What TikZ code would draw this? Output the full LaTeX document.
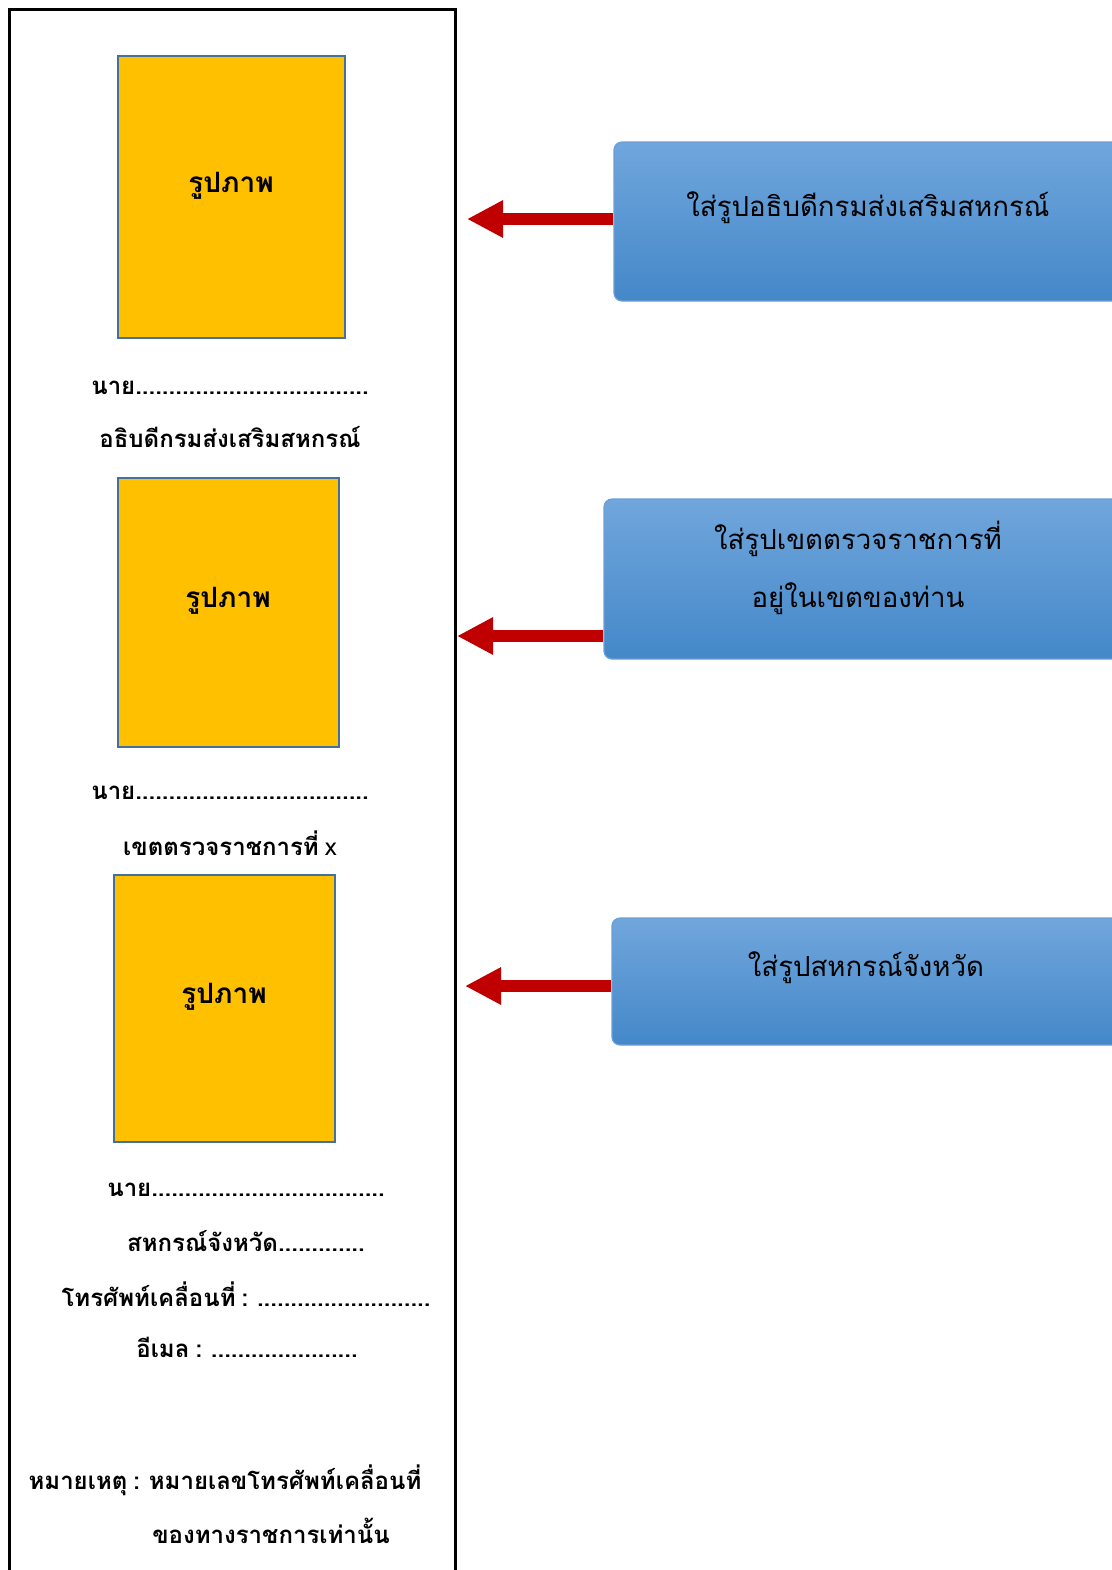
\documentclass[tikz,border=0pt]{standalone}
\usepackage{fontspec}
\setmainfont[Script=Thai, WordSpace=0.75]{Loma}
\usetikzlibrary{arrows.meta}
\definecolor{gold}{HTML}{FFC000}
\definecolor{goldedge}{HTML}{41719C}
\definecolor{bluetop}{HTML}{70A6DC}
\definecolor{bluebot}{HTML}{4488C9}
\definecolor{blueedge}{HTML}{6C9FD6}
\definecolor{arrowred}{HTML}{C00000}
\begin{document}
\begin{tikzpicture}[x={(0.5pt,0pt)}, y={(0pt,-0.5pt)},
 photo/.style={draw=goldedge, line width=1.2pt, fill=gold, inner sep=0pt},
 infobox/.style={draw=blueedge, line width=0.6pt, rounded corners=4pt, top color=bluetop, bottom color=bluebot, inner sep=0pt},
 lbl/.style={font=\bfseries\fontsize{12}{15}\selectfont, inner sep=0pt},
 phototxt/.style={font=\bfseries\fontsize{14}{17}\selectfont, inner sep=0pt},
 boxtxt/.style={font=\fontsize{13.8}{17}\selectfont, inner sep=0pt},
 pointer/.style={arrowred, line width=6pt, -{Triangle[length=18pt,width=17.5pt]}}
]
\useasboundingbox (0,0) rectangle (1112,1570);
\draw[line width=1.5pt] (9,1590) -- (9,9) -- (455,9) -- (455,1590);

% photo placeholders
\node[photo, minimum width=113.5pt, minimum height=141pt] (p1) at (231.5,197) {};
\node[photo, minimum width=110.5pt, minimum height=134.5pt] (p2) at (228.5,612.5) {};
\node[photo, minimum width=110.5pt, minimum height=133.5pt] (p3) at (224.5,1008.5) {};
\node[phototxt] (p1t) at (231,186) {รูปภาพ};
\node[phototxt] (p2t) at (228,601) {รูปภาพ};
\node[phototxt] (p3t) at (224,997) {รูปภาพ};

% captions
\node[lbl] (n1) at (230,388) {นาย...................................};
\node[lbl] (r1) at (230,437) {อธิบดีกรมส่งเสริมสหกรณ์};
\node[lbl] (n2) at (230,793) {นาย...................................};
\node[lbl] (r2) at (230,843) {เขตตรวจราชการที่ {\mdseries x}};
\node[lbl] (n3) at (246,1190) {นาย...................................};
\node[lbl] (r3) at (246,1241) {สหกรณ์จังหวัด.............};
\node[lbl] (tel) at (246,1294) {โทรศัพท์เคลื่อนที่ : ..........................};
\node[lbl] (mail) at (247,1347) {อีเมล : ......................};
\node[lbl] (note1) at (225,1480) {หมายเหตุ : หมายเลขโทรศัพท์เคลื่อนที่};
\node[lbl] (note2) at (271,1531) {ของทางราชการเท่านั้น};

% info boxes
\node[infobox, minimum width=258pt, minimum height=79.5pt] (b1) at (872,221.5) {};
\node[infobox, minimum width=263pt, minimum height=80pt] (b2) at (867,579) {};
\node[infobox, minimum width=259pt, minimum height=63.5pt] (b3) at (871,981.5) {};
\node[boxtxt] (b1t) at (868,208) {ใส่รูปอธิบดีกรมส่งเสริมสหกรณ์};
\node[boxtxt] (b2t) at (858,539) {ใส่รูปเขตตรวจราชการที่};
\node[boxtxt] (b2u) at (858,599) {อยู่ในเขตของท่าน};
\node[boxtxt] (b3t) at (866,968) {ใส่รูปสหกรณ์จังหวัด};

% arrows
\coordinate (a1) at (467,219);
\coordinate (a2) at (457,636);
\coordinate (a3) at (465,986);
\draw[pointer] (a1 -| b1.west) -- (a1);
\draw[pointer] (a2 -| b2.west) -- (a2);
\draw[pointer] (a3 -| b3.west) -- (a3);
\end{tikzpicture}
\end{document}
